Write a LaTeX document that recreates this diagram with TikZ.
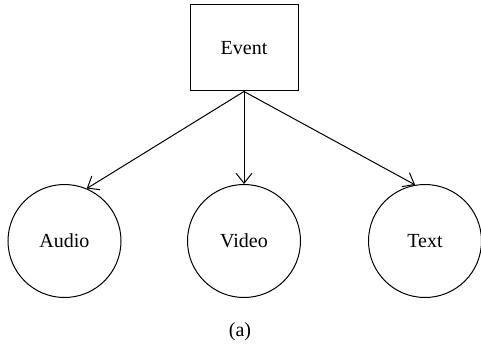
\documentclass[tikz,border=0pt]{standalone}
\usepackage{fontspec}
\setmainfont{Liberation Serif}
\usetikzlibrary{arrows.meta}
\tikzset{
    medium/.style={draw, circle, minimum size=56.5pt, inner sep=0pt, font=\fontsize{10}{12}\selectfont},
    eventbox/.style={draw, rectangle, minimum width=54pt, minimum height=43pt, inner sep=0pt, font=\fontsize{10}{12}\selectfont},
    link/.style={-{Straight Barb[length=5pt, width=8pt]}, line width=0.5pt}
}

\begin{document}
\begin{tikzpicture}[x=0.5pt, y=-0.5pt, line width=0.5pt]
        \useasboundingbox (0,0) rectangle (481,353);

        % Draw the event box
        \node[eventbox] (event) at (244,48) {Event};

        % Draw the three media
        \node[medium] (audio) at (64.5,241) {Audio};
        \node[medium] (video) at (244,241) {Video};
        \node[medium] (text) at (425,241) {Text};

        % Draw the arrows
        \draw[link] (event.south) -- (audio.67);
        \draw[link] (event.south) -- (video.north);
        \draw[link] (event.south) -- (text.100);

        \node[font=\fontsize{10}{12}\selectfont] (caption) at (240,332) {(a)};
    \end{tikzpicture}
\end{document}
